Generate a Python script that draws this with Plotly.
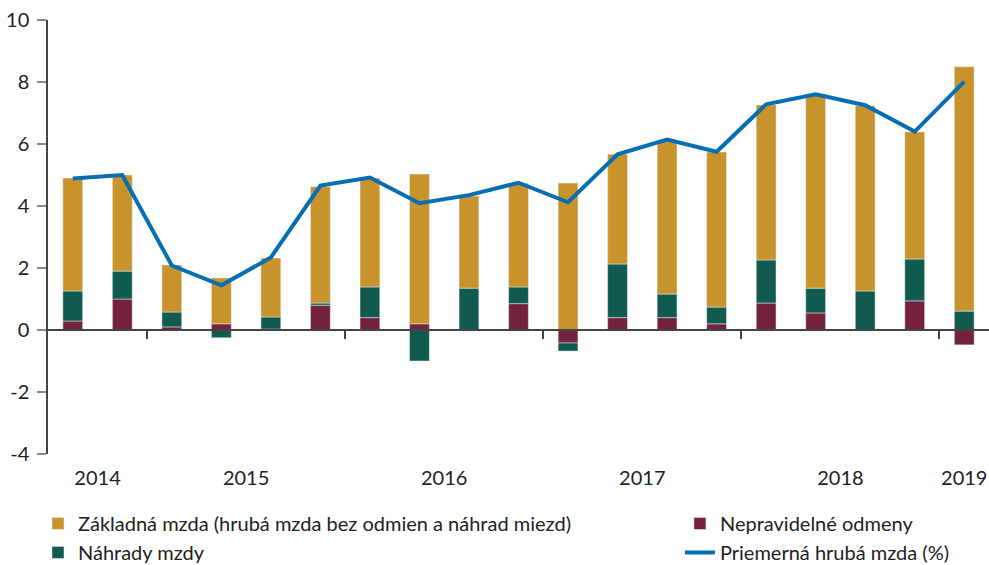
import plotly.graph_objects as go

quarters = ["2014Q3", "2014Q4", "2015Q1", "2015Q2", "2015Q3", "2015Q4",
            "2016Q1", "2016Q2", "2016Q3", "2016Q4", "2017Q1", "2017Q2",
            "2017Q3", "2017Q4", "2018Q1", "2018Q2", "2018Q3", "2018Q4", "2019Q1"]

zakladna = [3.64, 3.10, 1.52, 1.48, 1.90, 3.75, 3.51, 4.83, 2.97, 3.34, 4.74, 3.54,
            4.97, 5.00, 5.00, 6.26, 5.97, 4.10, 7.88]
nahrady = [0.97, 0.90, 0.48, -0.25, 0.39, 0.07, 0.99, -1.00, 1.35, 0.54, -0.26, 1.73,
           0.76, 0.54, 1.39, 0.80, 1.26, 1.35, 0.61]
odmeny = [0.29, 1.00, 0.10, 0.20, 0.03, 0.80, 0.40, 0.20, 0.00, 0.85, -0.42, 0.40,
          0.40, 0.20, 0.87, 0.55, 0.00, 0.94, -0.48]
priemerna = [4.89, 5.00, 2.08, 1.44, 2.34, 4.66, 4.92, 4.09, 4.35, 4.75, 4.12, 5.67,
             6.14, 5.75, 7.28, 7.60, 7.25, 6.40, 8.01]

year_labels = ["2014", "2015", "2016", "2017", "2018", "2019"]
year_label_pos = [0.5, 3.5, 7.5, 11.5, 15.5, 18]
year_boundaries = [1.5, 5.5, 9.5, 13.5, 17.5]

y_ticks = [-4, -2, 0, 2, 4, 6, 8, 10]
y_tick_labels = ["-4", "-2", "0", "2", "4", "6", "8", "10"]
y_min, y_max = -4, 10

GOLD = "#C8932B"
GREEN = "#115A4F"
WINE = "#74213D"
BLUE = "#066EB2"
TEXT = "#222222"
FONT = "Lato"
FS = 20

x = list(range(len(quarters)))

fig = go.Figure()
fig.add_trace(go.Bar(x=x, y=odmeny, name="Nepravidelné odmeny", marker_color=WINE,
                     width=0.4, legend="legend2", legendrank=1))
fig.add_trace(go.Bar(x=x, y=nahrady, name="Náhrady mzdy", marker_color=GREEN,
                     width=0.4, legend="legend", legendrank=2))
fig.add_trace(go.Bar(x=x, y=zakladna,
                     name="Základná mzda (hrubá mzda bez odmien a náhrad miezd)",
                     marker_color=GOLD, width=0.4, legend="legend", legendrank=1))
fig.add_trace(go.Scatter(x=x, y=priemerna, name="Priemerná hrubá mzda (%)",
                         mode="lines", line=dict(color=BLUE, width=4),
                         legend="legend2", legendrank=2))
# invisible trace hosting the zero-line axis with year-boundary ticks
fig.add_trace(go.Scatter(x=x, y=[None] * len(x), xaxis="x2", showlegend=False,
                         hoverinfo="skip"))

zero_pos = (0 - y_min) / (y_max - y_min)

legend_common = dict(orientation="v", yanchor="top", xanchor="left",
                     xref="container", yref="container",
                     font=dict(family=FONT, size=FS, color=TEXT),
                     bgcolor="rgba(0,0,0,0)", traceorder="normal", tracegroupgap=0)

fig.update_layout(
    width=989, height=565,
    margin=dict(l=48, r=0, t=20, b=111, autoexpand=False),
    paper_bgcolor="white", plot_bgcolor="white",
    barmode="relative",
    font=dict(family=FONT, size=FS, color=TEXT),
    xaxis=dict(range=[-0.5, 18.5], tickvals=year_label_pos, ticktext=year_labels,
               showline=False, showgrid=False, zeroline=False,
               ticks="outside", ticklen=6, tickcolor="rgba(0,0,0,0)",
               tickfont=dict(family=FONT, size=FS, color=TEXT)),
    xaxis2=dict(range=[-0.5, 18.5], overlaying="x", anchor="free", position=zero_pos,
                showline=True, linecolor="#444444", linewidth=1.5,
                tickvals=year_boundaries, ticktext=[""] * len(year_boundaries),
                ticks="outside", ticklen=8, tickcolor="#444444", tickwidth=1.5,
                showgrid=False, zeroline=False),
    yaxis=dict(range=[y_min, y_max], tickvals=y_ticks, ticktext=y_tick_labels,
               showgrid=False, zeroline=False,
               showline=True, linecolor="#444444", linewidth=1.5,
               ticks="outside", ticklen=9, tickcolor="#888888", tickwidth=1.5,
               ticklabelstandoff=4,
               tickfont=dict(family=FONT, size=FS, color=TEXT)),
    legend=dict(x=0.0384, y=0.108, **legend_common),
    legend2=dict(x=0.6875, y=0.108, **legend_common),
    showlegend=True,
)

fig.write_html("out.html", config={"displayModeBar": False},
               post_script="document.body.style.margin='0';document.body.style.overflow='hidden';")
